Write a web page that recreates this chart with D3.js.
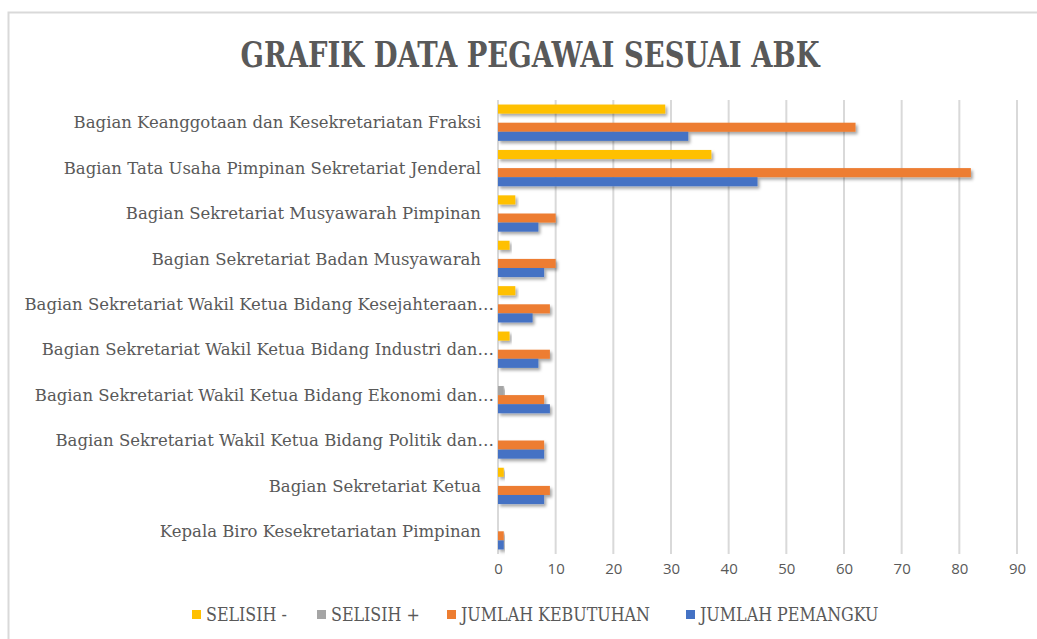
<!DOCTYPE html>
<html>
<head>
<meta charset="utf-8">
<script src="https://cdn.jsdelivr.net/npm/d3@7"></script>
<style>
  body { margin: 0; background: #fff; }
  svg { display: block; }
</style>
</head>
<body>
<svg width="1037" height="639"></svg>
<script>
// categories, top to bottom as shown
const categories = [
  "Bagian Keanggotaan dan Kesekretariatan Fraksi",
  "Bagian Tata Usaha Pimpinan Sekretariat Jenderal",
  "Bagian Sekretariat Musyawarah Pimpinan",
  "Bagian Sekretariat Badan Musyawarah",
  "Bagian Sekretariat Wakil Ketua Bidang Kesejahteraan…",
  "Bagian Sekretariat Wakil Ketua Bidang Industri dan…",
  "Bagian Sekretariat Wakil Ketua Bidang Ekonomi dan…",
  "Bagian Sekretariat Wakil Ketua Bidang Politik dan…",
  "Bagian Sekretariat Ketua",
  "Kepala Biro Kesekretariatan Pimpinan"
];

const selisihMinus = [29, 37, 3, 2, 3, 2, 0, 0, 1, 0];
const selisihPlus = [0, 0, 0, 0, 0, 0, 1, 0, 0, 0];
const jumlahKebutuhan = [62, 82, 10, 10, 9, 9, 8, 8, 9, 1];
const jumlahPemangku = [33, 45, 7, 8, 6, 7, 9, 8, 8, 1];

const seriesNames = ["SELISIH -", "SELISIH +", "JUMLAH KEBUTUHAN", "JUMLAH PEMANGKU"];
const seriesValues = [selisihMinus, selisihPlus, jumlahKebutuhan, jumlahPemangku];
const seriesColors = ["#FFC000", "#A5A5A5", "#ED7D31", "#4472C4"];
const xTicks = [0, 10, 20, 30, 40, 50, 60, 70, 80, 90];

const svg = d3.select("svg"),
  textColor = "#595959",
  plot = { left: 498, right: 1017, top: 100, bottom: 554 };

const defs = svg.append("defs");
const shadow = defs.append("filter")
  .attr("id", "shadow")
  .attr("x", "-20%").attr("y", "-50%")
  .attr("width", "140%").attr("height", "250%");
shadow.append("feDropShadow")
  .attr("dx", 2).attr("dy", 2.5)
  .attr("stdDeviation", 1.6)
  .attr("flood-color", "#000")
  .attr("flood-opacity", 0.35);

// chart frame
svg.append("rect")
  .attr("x", 8.5).attr("y", 12.5)
  .attr("width", 1040).attr("height", 640)
  .style("fill", "#fff")
  .style("stroke", "#D9D9D9")
  .style("stroke-width", 2);

// title is a narrow bold serif, squeeze it to the same width
svg.append("text")
  .attr("x", 530)
  .attr("y", 67)
  .attr("text-anchor", "middle")
  .attr("textLength", 579)
  .attr("lengthAdjust", "spacingAndGlyphs")
  .style("font-family", "'DejaVu Serif Condensed', 'DejaVu Serif', serif")
  .style("font-weight", "bold")
  .style("font-size", "35px")
  .style("fill", textColor)
  .text("GRAFIK DATA PEGAWAI SESUAI ABK");

const x = d3.scaleLinear().domain([0, 90]).range([plot.left, plot.right]);
const y = d3.scaleBand()
  .domain(categories)
  .range([plot.top, plot.bottom])
  .paddingInner(0.2)
  .paddingOuter(0.1);
const ySub = d3.scaleBand()
  .domain(seriesNames)
  .range([0, y.bandwidth()]);

// gridlines
svg.append("g")
  .selectAll("line")
  .data(xTicks)
  .enter()
  .append("line")
  .attr("x1", d => x(d)).attr("x2", d => x(d))
  .attr("y1", plot.top).attr("y2", plot.bottom)
  .style("stroke", "#D9D9D9")
  .style("stroke-width", 2);

// x axis labels
const xAxis = svg.append("g")
  .attr("transform", `translate(0, ${plot.bottom + 9})`)
  .call(d3.axisBottom(x).tickValues(xTicks).tickSize(0).tickPadding(0));
xAxis.select(".domain").remove();
xAxis.selectAll("text")
  .attr("dy", "0.71em")
  .style("font-family", "'Open Sans', 'Liberation Sans', sans-serif")
  .style("font-size", "15px")
  .style("fill", textColor);

// category labels
svg.append("g")
  .selectAll("text")
  .data(categories)
  .enter()
  .append("text")
  .attr("x", d => (d.endsWith("…") ? 494 : 481))
  .attr("y", d => y(d) + y.bandwidth() / 2)
  .attr("dy", "0.35em")
  .attr("text-anchor", "end")
  .style("font-family", "'DejaVu Serif', serif")
  .style("font-size", "16.5px")
  .style("fill", textColor)
  .text(d => d);

// bars
const groups = svg.append("g")
  .selectAll("g")
  .data(seriesNames)
  .enter()
  .append("g")
  .style("fill", (d, i) => seriesColors[i]);

groups.selectAll("rect")
  .data((s, i) => seriesValues[i].map((v, j) => ({ series: s, cat: categories[j], value: v })))
  .enter()
  .filter(d => d.value > 0)
  .append("rect")
  .attr("x", x(0))
  .attr("y", d => y(d.cat) + ySub(d.series))
  .attr("width", d => x(d.value) - x(0))
  .attr("height", ySub.bandwidth())
  .attr("filter", "url(#shadow)");

// legend
const legendX = [192, 317, 447, 686];
const legend = svg.append("g")
  .selectAll("g")
  .data(seriesNames)
  .enter()
  .append("g")
  .attr("transform", (d, i) => `translate(${legendX[i]}, 615)`);
legend.append("rect")
  .attr("x", 0).attr("y", -5)
  .attr("width", 9).attr("height", 9)
  .style("fill", (d, i) => seriesColors[i]);
legend.append("text")
  .attr("x", 14)
  .attr("y", 0)
  .attr("dy", "0.35em")
  .style("font-family", "'DejaVu Serif Condensed', 'DejaVu Serif', serif")
  .style("font-size", "17.7px")
  .style("fill", textColor)
  .text(d => d);
</script>
</body>
</html>
